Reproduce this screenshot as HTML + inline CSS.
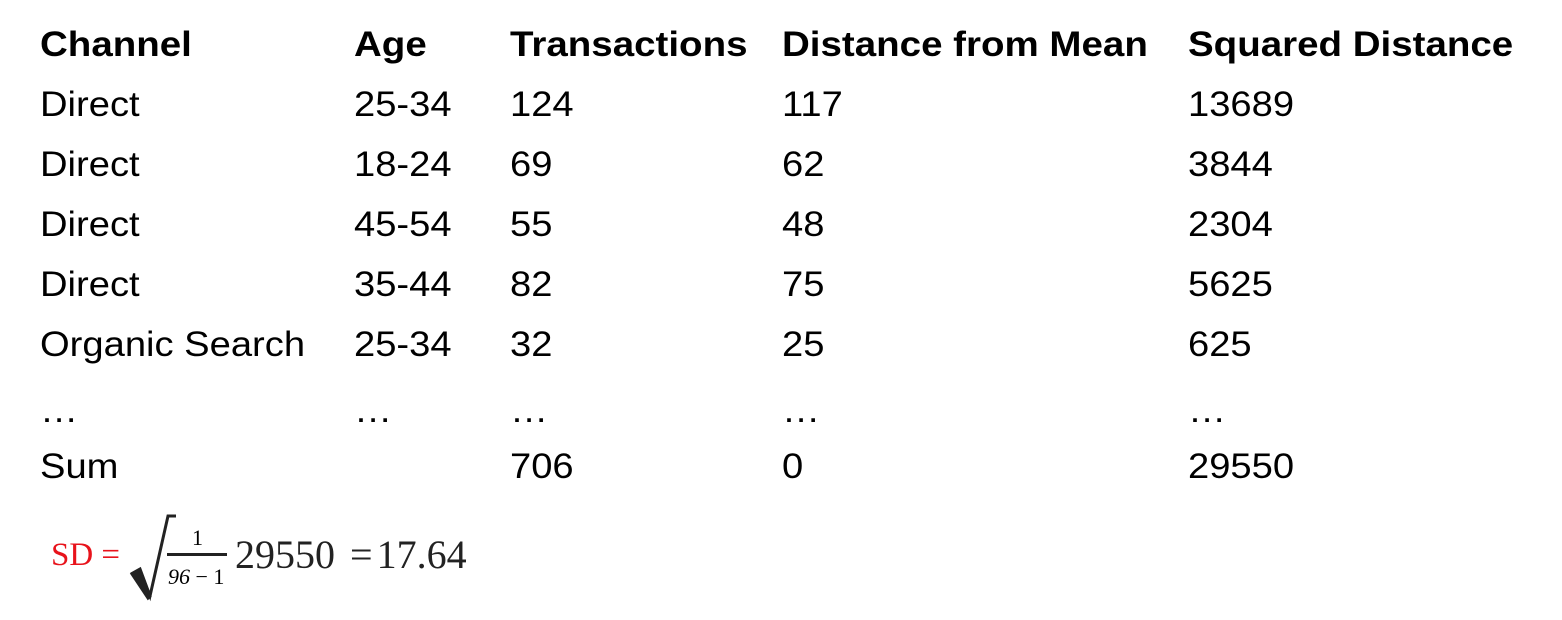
<!DOCTYPE html>
<html><head><meta charset="utf-8"><style>
body{margin:0;width:1562px;height:620px;background:#fff;position:relative;overflow:hidden;font-family:"Liberation Sans",sans-serif;color:#000}
.c{position:absolute;font-size:35px;line-height:40px;white-space:nowrap;transform:scaleX(1.09);transform-origin:left center}
.h{font-weight:bold;transform:scaleX(1.1)}
.s{position:absolute;font-family:"Liberation Serif",serif;white-space:nowrap;line-height:1}
</style></head><body>
<div>
<div>
<div class="c h" style="left:40px;top:25px">Channel</div>
<div class="c h" style="left:354px;top:25px">Age</div>
<div class="c h" style="left:510px;top:25px">Transactions</div>
<div class="c h" style="left:782px;top:25px">Distance from Mean</div>
<div class="c h" style="left:1188px;top:25px">Squared Distance</div>
</div>
<div id="rows"></div>
</div>
<div>
<div class="s" style="left:51px;top:539px;font-size:33px;color:#e8131b">SD =</div>
<svg style="position:absolute;left:128px;top:512px" width="50" height="90">
<path d="M3,62 L12,57 L22,84 L40,4 L48,4" fill="none" stroke="#222" stroke-width="3"/>
<path d="M4,62 L12,58 L22,84 L20,86 Z" fill="#222" stroke="#222" stroke-width="3"/>
</svg>
<div class="s" style="left:192px;top:527px;font-size:22px">1</div>
<div style="position:absolute;left:167px;top:553px;width:60px;height:3px;background:#222"></div>
<div class="s" style="left:168px;top:566px;font-size:22px"><i>96</i> − 1</div>
<div class="s" style="left:235px;top:535px;font-size:40px;color:#222">29550</div>
<div class="s" style="left:350px;top:535px;font-size:40px;color:#222">=<span style="margin-left:4px">17.64</span></div>
</div>
<script>
const channels=["Direct","Direct","Direct","Direct","Organic Search","…","Sum"];
const ages=["25-34","18-24","45-54","35-44","25-34","…",""];
const transactions=["124","69","55","82","32","…","706"];
const distances=["117","62","48","75","25","…","0"];
const squared=["13689","3844","2304","5625","625","…","29550"];
const rowTops=[85,145,205,265,325,391,447];
const cols=[40,354,510,782,1188];
const names=["channel","age","transactions","distance","squared-distance"];
const host=document.getElementById('rows');
channels.forEach((ch,i)=>{
  const row=document.createElement('div');
  
  
  [ch,ages[i],transactions[i],distances[i],squared[i]].forEach((v,j)=>{
    const d=document.createElement('div');
    d.className='c';
    d.style.left=cols[j]+'px';d.style.top=rowTops[i]+'px';
    d.textContent=v;
    
    
    row.appendChild(d);
  });
  host.appendChild(row);
});
</script>
</body></html>
